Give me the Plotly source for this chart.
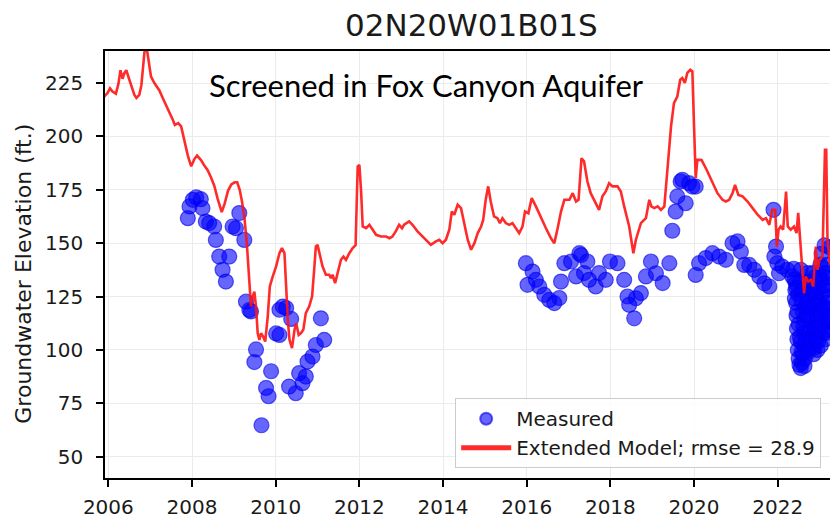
import plotly.graph_objects as go

# ---------------- data ----------------
model_year = [
    2005.90, 2005.98, 2006.04, 2006.10, 2006.18, 2006.24, 2006.29, 2006.34, 2006.38, 2006.43,
    2006.47, 2006.54, 2006.62, 2006.67, 2006.74, 2006.79, 2006.83, 2006.87, 2006.92, 2006.96,
    2007.02, 2007.10, 2007.18, 2007.22, 2007.30, 2007.38, 2007.46, 2007.54, 2007.59, 2007.67,
    2007.74, 2007.82, 2007.90, 2007.98, 2008.06, 2008.12, 2008.21, 2008.29, 2008.37, 2008.45,
    2008.53, 2008.61, 2008.71, 2008.78, 2008.86, 2008.94, 2009.02, 2009.08, 2009.14, 2009.19,
    2009.25, 2009.31, 2009.35, 2009.39, 2009.41, 2009.45, 2009.49, 2009.53, 2009.57, 2009.61,
    2009.65, 2009.70, 2009.75, 2009.81, 2009.86, 2009.93, 2010.01, 2010.09, 2010.15, 2010.21,
    2010.25, 2010.29, 2010.33, 2010.39, 2010.45, 2010.49, 2010.55, 2010.60, 2010.66, 2010.72,
    2010.80, 2010.87, 2010.92, 2010.96, 2011.00, 2011.06, 2011.12, 2011.20, 2011.28, 2011.32,
    2011.36, 2011.42, 2011.48, 2011.56, 2011.62, 2011.68, 2011.76, 2011.84, 2011.91, 2011.96,
    2012.00, 2012.04, 2012.08, 2012.16, 2012.24, 2012.32, 2012.40, 2012.52, 2012.64, 2012.72,
    2012.79, 2012.87, 2012.95, 2013.02, 2013.07, 2013.19, 2013.27, 2013.39, 2013.51, 2013.63,
    2013.71, 2013.83, 2013.91, 2013.99, 2014.07, 2014.15, 2014.21, 2014.27, 2014.35, 2014.43,
    2014.51, 2014.59, 2014.67, 2014.75, 2014.83, 2014.91, 2014.96, 2015.02, 2015.08, 2015.14,
    2015.22, 2015.30, 2015.36, 2015.42, 2015.50, 2015.58, 2015.66, 2015.74, 2015.82, 2015.90,
    2015.96, 2016.04, 2016.12, 2016.22, 2016.34, 2016.46, 2016.58, 2016.66, 2016.74, 2016.82,
    2016.90, 2017.02, 2017.10, 2017.18, 2017.24, 2017.31, 2017.37, 2017.45, 2017.53, 2017.65,
    2017.73, 2017.81, 2017.89, 2017.97, 2018.05, 2018.17, 2018.25, 2018.33, 2018.45, 2018.55,
    2018.61, 2018.73, 2018.85, 2018.93, 2018.98, 2019.05, 2019.13, 2019.21, 2019.29, 2019.37,
    2019.45, 2019.52, 2019.60, 2019.67, 2019.72, 2019.78, 2019.84, 2019.91, 2019.96, 2020.00,
    2020.04, 2020.08, 2020.18, 2020.30, 2020.44, 2020.56, 2020.68, 2020.76, 2020.84, 2020.92,
    2020.98, 2021.06, 2021.16, 2021.28, 2021.40, 2021.52, 2021.64, 2021.72, 2021.80, 2021.87,
    2021.94, 2021.98, 2022.02, 2022.07, 2022.13, 2022.20, 2022.24, 2022.31, 2022.39, 2022.45,
    2022.49, 2022.54, 2022.59, 2022.63, 2022.67, 2022.73, 2022.79, 2022.85, 2022.91, 2022.95,
    2023.00, 2023.07, 2023.13, 2023.16, 2023.19, 2023.25,
]
model_value = [
    218.7, 220.3, 222.5, 221.0, 220.0, 224.5, 231.0, 227.0, 229.5, 231.0,
    228.5, 224.0, 219.5, 218.0, 219.5, 224.0, 235.0, 241.0, 241.0, 235.0,
    228.0, 225.0, 222.5, 221.5, 218.0, 214.8, 211.7, 207.8, 205.4, 206.2,
    204.7, 197.6, 191.0, 186.0, 189.5, 191.0, 189.0, 186.5, 184.3, 181.0,
    177.0, 171.0, 164.5, 168.5, 174.5, 177.5, 178.5, 178.5, 175.0, 170.0,
    162.5, 150.0, 137.5, 126.5, 120.3, 125.0, 127.3, 120.3, 107.8, 104.7,
    107.8, 106.2, 103.9, 115.6, 129.7, 134.4, 139.1, 145.3, 147.7, 145.3,
    126.5, 114.1, 104.7, 100.8, 109.4, 112.5, 107.0, 107.8, 109.4, 117.2,
    120.3, 125.0, 137.5, 148.4, 149.2, 143.7, 139.1, 135.2, 135.2, 133.6,
    135.2, 131.3, 135.9, 142.2, 143.7, 142.2, 145.3, 147.7, 149.0, 185.9,
    186.7, 175.0, 157.8, 157.0, 158.6, 156.3, 153.9, 153.1, 153.1, 152.3,
    153.1, 155.5, 158.6, 157.0, 158.6, 160.2, 158.6, 155.5, 153.1, 150.8,
    149.2, 150.8, 151.6, 150.0, 151.6, 156.3, 164.8, 163.3, 168.0, 166.4,
    159.4, 151.6, 146.9, 150.0, 154.7, 157.8, 160.9, 170.3, 176.6, 169.5,
    162.5, 161.7, 159.4, 161.7, 159.4, 158.6, 159.4, 157.0, 154.7, 157.8,
    164.8, 164.0, 171.1, 167.2, 161.7, 157.0, 152.3, 150.0, 157.0, 164.8,
    170.3, 170.3, 173.4, 169.5, 170.3, 189.8, 188.3, 179.0, 173.4, 168.7,
    165.6, 171.9, 174.2, 178.1, 176.6, 176.6, 174.2, 167.2, 157.8, 145.3,
    151.6, 159.4, 161.7, 170.3, 167.2, 166.4, 167.2, 165.6, 167.2, 185.9,
    204.7, 215.6, 218.7, 226.5, 227.3, 225.0, 229.7, 231.2, 230.4, 204.7,
    180.5, 189.1, 189.0, 184.4, 178.1, 173.4, 170.3, 169.5, 170.3, 173.4,
    177.3, 172.6, 171.9, 169.5, 166.4, 163.3, 160.9, 161.7, 158.6, 165.6,
    165.6, 148.4, 156.3, 157.8, 156.3, 174.2, 157.8, 156.3, 157.8, 154.7,
    164.2, 150.0, 140.6, 126.5, 134.4, 132.0, 132.8, 129.7, 148.4, 137.5,
    142.2, 143.7, 193.7, 193.7, 151.6, 140.0,
]

measured_year = [
    2007.90, 2007.94, 2008.02, 2008.10, 2008.21, 2008.25, 2008.33, 2008.41, 2008.53, 2008.57,
    2008.65, 2008.73, 2008.81, 2008.89, 2008.97, 2009.05, 2009.13, 2009.25, 2009.29, 2009.37,
    2009.41, 2009.49, 2009.53, 2009.66, 2009.77, 2009.83, 2009.89, 2010.01, 2010.09, 2010.09,
    2010.17, 2010.25, 2010.37, 2010.32, 2010.48, 2010.56, 2010.64, 2010.72, 2010.76, 2010.88,
    2010.96, 2011.08, 2011.16,
    2015.98, 2016.02, 2016.14, 2016.22, 2016.30, 2016.42, 2016.54, 2016.66, 2016.78, 2016.82,
    2016.90, 2017.06, 2017.18, 2017.26, 2017.30, 2017.37, 2017.45, 2017.49, 2017.65, 2017.73,
    2017.89, 2017.99, 2018.17, 2018.33, 2018.41, 2018.45, 2018.57, 2018.61, 2018.73, 2018.85,
    2018.97, 2019.09, 2019.25, 2019.41,
    2019.48, 2019.56, 2019.60, 2019.68, 2019.72, 2019.80, 2019.88, 2019.96, 2020.04,
    2020.04, 2020.12, 2020.28, 2020.44, 2020.60, 2020.76, 2020.92, 2021.04, 2021.12, 2021.20,
    2021.32, 2021.44, 2021.56, 2021.68, 2021.80, 2021.90, 2021.96, 2021.92, 2021.99, 2022.03,
    2022.11, 2022.23, 2022.35, 2022.43, 2022.55,
    2022.40, 2022.42, 2022.44, 2022.45, 2022.46, 2022.47, 2022.48, 2022.50, 2022.52, 2022.55,
    2022.58, 2022.60, 2022.62, 2022.63, 2022.64, 2022.66, 2022.68, 2022.70, 2022.72, 2022.74,
    2022.76, 2022.78, 2022.80, 2022.82, 2022.84, 2022.86, 2022.88, 2022.90, 2022.92, 2022.94,
    2022.96, 2022.98, 2023.00, 2023.02, 2023.04, 2023.06, 2023.08, 2023.10, 2023.12, 2023.14,
    2023.16, 2023.18, 2023.20, 2023.22, 2023.24, 2022.50, 2022.55, 2022.60, 2022.65, 2022.70,
    2022.75, 2022.80, 2022.85, 2022.90, 2022.95, 2023.00, 2023.05, 2023.10, 2023.15, 2023.20,
    2023.25, 2023.12,
    2022.38, 2022.41, 2022.47, 2022.53, 2022.57, 2022.61, 2022.67, 2022.71, 2022.77, 2022.81,
    2022.87, 2022.91, 2022.97, 2023.01, 2023.07, 2023.11, 2023.17, 2023.21, 2022.49, 2022.59,
    2022.69, 2022.79, 2022.89, 2022.99, 2023.09, 2023.19, 2022.54, 2022.64, 2022.74, 2022.84,
    2022.94, 2023.04, 2023.14, 2023.23, 2022.45, 2022.57, 2022.73, 2022.93, 2023.13, 2023.03,
]
measured_value = [
    161.7, 167.2, 170.3, 171.5, 170.6, 166.4, 160.1, 159.4, 157.8, 151.5,
    143.7, 137.5, 132.0, 143.7, 157.8, 157.0, 164.1, 151.5, 122.6, 118.7,
    118.0, 94.3, 100.2, 64.7, 82.2, 78.3, 90.0, 107.7, 107.0, 118.8,
    120.3, 119.6, 114.5, 82.8, 79.7, 89.1, 84.4, 87.5, 94.5, 96.9,
    102.3, 114.8, 104.7,
    140.6, 130.5, 136.7, 132.8, 129.7, 125.8, 123.4, 121.9, 124.3, 132.0,
    140.6, 141.4, 134.4, 145.3, 144.4, 136.0, 141.4, 132.8, 129.7, 136.0,
    132.8, 141.4, 140.6, 132.8, 125.0, 121.1, 114.8, 124.2, 126.6, 134.4,
    141.4, 135.9, 131.3, 140.6,
    155.8, 164.8, 171.9, 178.9, 179.7, 168.7, 178.1, 176.5, 176.5,
    135.1, 140.6, 143.0, 145.3, 143.7, 142.2, 150.0, 150.8, 146.1, 139.8,
    139.8, 137.5, 134.4, 131.2, 129.7, 165.6, 148.4, 143.7, 140.6, 135.9,
    139.0, 137.5, 134.4, 131.2, 137.5,
    133.0, 128.0, 122.0, 116.0, 110.0, 105.0, 100.0, 96.0, 93.0, 91.5,
    94.0, 98.0, 102.0, 108.0, 114.0, 120.0, 126.0, 131.0, 136.0, 132.0,
    126.0, 119.0, 113.0, 107.0, 102.0, 98.0, 101.0, 106.0, 111.0, 117.0,
    123.0, 129.0, 135.0, 140.0, 133.0, 126.0, 120.0, 114.0, 109.0, 105.0,
    108.0, 113.0, 119.0, 125.0, 131.0, 112.0, 104.0, 118.0, 96.0, 100.0,
    108.0, 124.0, 130.0, 122.0, 100.0, 110.0, 145.0, 138.0, 128.0, 140.0,
    148.0, 149.0,
    138.0, 124.0, 118.0, 106.0, 99.0, 111.0, 104.0, 122.0, 115.0, 128.0,
    110.0, 127.0, 104.0, 118.0, 112.0, 130.0, 122.0, 134.0, 126.0, 128.0,
    116.0, 104.0, 134.0, 121.0, 108.0, 116.0, 132.0, 92.5, 121.0, 136.0,
    114.0, 116.0, 136.0, 115.0, 129.0, 123.0, 99.0, 105.0, 120.0, 102.0,
]

x_ticks = [2006, 2008, 2010, 2012, 2014, 2016, 2018, 2020, 2022]
y_ticks = [50, 75, 100, 125, 150, 175, 200, 225]

title_text = "02N20W01B01S"
note_text = "Screened in Fox Canyon Aquifer"
y_label = "Groundwater Elevation (ft.)"
rmse = 28.9

# ---------------- figure ----------------
FONT = "DejaVu Sans"
fig = go.Figure()
fig.add_trace(go.Scatter(
    x=measured_year, y=measured_value, mode="markers", name="Measured",
    marker=dict(size=15, color="rgba(0,0,255,0.6)",
                line=dict(color="rgba(0,0,230,0.6)", width=1.2)),
))
fig.add_trace(go.Scatter(
    x=model_year, y=model_value, mode="lines",
    name=f"Extended Model; rmse = {rmse}",
    line=dict(color="rgba(255,20,20,0.9)", width=2.6),
))

axis_common = dict(
    showline=True, linecolor="black", linewidth=1.6,
    ticks="outside", ticklen=7, tickwidth=1.5, tickcolor="black",
    showgrid=True, gridcolor="#ebebeb", gridwidth=1,
    zeroline=False,
    tickfont=dict(family=FONT, size=20, color="#1a1a1a"),
)
fig.update_xaxes(range=[2005.92, 2023.25], tickvals=x_ticks,
                 ticktext=[str(t) for t in x_ticks], mirror=True,
                 ticklabelstandoff=3, **axis_common)
fig.update_yaxes(range=[40, 240], tickvals=y_ticks,
                 ticktext=[str(t) for t in y_ticks],
                 ticklabelstandoff=9, **axis_common)

fig.add_annotation(text=title_text, xref="paper", yref="paper", x=0.505, y=1.062,
                   xanchor="center", yanchor="middle", showarrow=False,
                   font=dict(family=FONT, size=31, color="#1a1a1a"))
fig.add_annotation(text=y_label, xref="paper", yref="paper", x=-0.112, y=0.478,
                   xanchor="center", yanchor="middle", showarrow=False, textangle=-90,
                   font=dict(family=FONT, size=22, color="#1a1a1a"))
fig.add_annotation(text=note_text, xref="paper", yref="paper", x=0.444, y=0.920,
                   xanchor="center", yanchor="middle", showarrow=False,
                   font=dict(family="Lato", size=31, color="black"))

fig.update_layout(
    width=830, height=521,
    margin=dict(l=105, r=0, t=51, b=43),
    paper_bgcolor="white", plot_bgcolor="white",
    showlegend=True,
    legend=dict(x=0.483, y=0.023, xanchor="left", yanchor="bottom",
                bgcolor="rgba(255,255,255,0.85)", bordercolor="#cccccc", borderwidth=1,
                font=dict(family=FONT, size=20, color="#1a1a1a"),
                itemsizing="constant", itemwidth=50),
)

# remove the default 8px page margin so the figure fills the window exactly
fig.write_html("out.html", config={"displayModeBar": False},
               post_script="document.body.style.margin='0';")
